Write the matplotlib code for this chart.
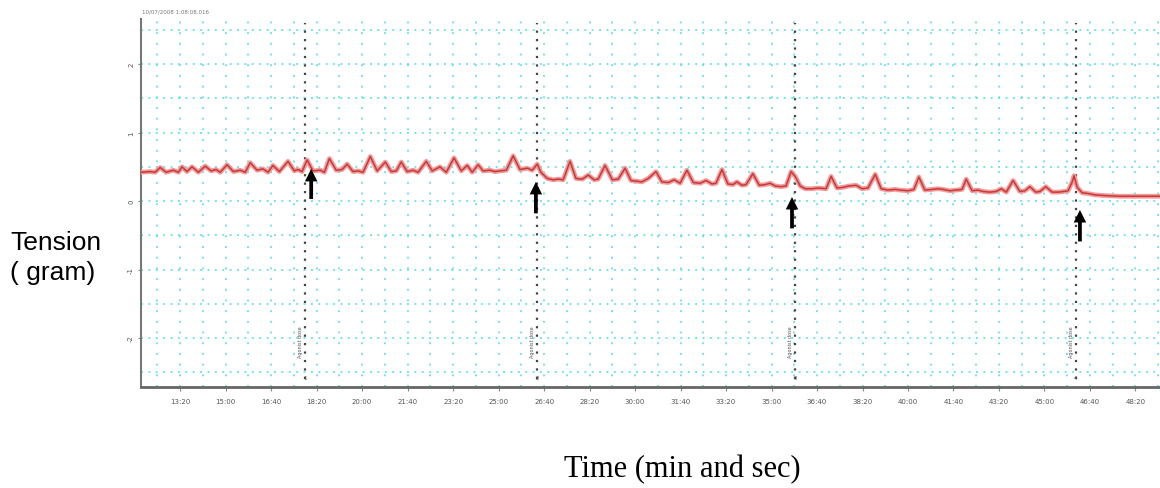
import matplotlib
matplotlib.use("Agg")
import matplotlib.pyplot as plt

# tension trace (time in s, tension in g)
time_s = [714, 734, 745, 756, 769, 785, 796, 804, 815, 826, 840, 855, 868, 879, 888,
          903, 917, 932, 943, 954, 969, 982, 993, 1004, 1018, 1037, 1051, 1059, 1068,
          1079, 1092, 1108, 1117, 1128, 1143, 1156, 1167, 1180, 1191, 1202, 1218, 1233,
          1251, 1264, 1275, 1286, 1299, 1312, 1323, 1341, 1354, 1371, 1385, 1402, 1418,
          1431, 1442, 1455, 1466, 1481, 1492, 1503, 1517, 1532, 1547, 1563, 1574, 1585,
          1593, 1607, 1620, 1631, 1642, 1657, 1670, 1684, 1697, 1710, 1719, 1734, 1750,
          1763, 1778, 1791, 1804, 1815, 1829, 1846, 1859, 1873, 1886, 1899, 1914, 1928,
          1943, 1956, 1969, 1978, 1991, 2004, 2015, 2024, 2035, 2044, 2059, 2073, 2086,
          2097, 2108, 2121, 2132, 2143, 2152, 2163, 2174, 2189, 2202, 2220, 2231, 2244,
          2257, 2270, 2286, 2299, 2312, 2328, 2341, 2356, 2372, 2383, 2400, 2413, 2424,
          2437, 2453, 2466, 2477, 2492, 2506, 2519, 2528, 2541, 2554, 2565, 2580, 2594,
          2605, 2616, 2631, 2646, 2657, 2668, 2681, 2690, 2703, 2717, 2730, 2743, 2752,
          2761, 2765, 2772, 2783, 2796, 2811, 2833, 2866, 2910, 2954]
tension_g = [0.42, 0.43, 0.42, 0.49, 0.42, 0.45, 0.42, 0.50, 0.43, 0.50, 0.42, 0.51, 0.44,
             0.46, 0.42, 0.53, 0.43, 0.45, 0.42, 0.56, 0.45, 0.47, 0.42, 0.52, 0.43, 0.58,
             0.44, 0.46, 0.43, 0.60, 0.44, 0.45, 0.42, 0.62, 0.45, 0.46, 0.54, 0.43, 0.44,
             0.42, 0.65, 0.44, 0.57, 0.43, 0.44, 0.57, 0.43, 0.45, 0.42, 0.58, 0.44, 0.50,
             0.42, 0.63, 0.44, 0.52, 0.42, 0.53, 0.44, 0.45, 0.43, 0.44, 0.45, 0.66, 0.46,
             0.48, 0.45, 0.54, 0.42, 0.33, 0.31, 0.32, 0.31, 0.58, 0.33, 0.32, 0.38, 0.31,
             0.32, 0.52, 0.31, 0.32, 0.48, 0.30, 0.29, 0.28, 0.33, 0.43, 0.28, 0.27, 0.31,
             0.26, 0.45, 0.27, 0.26, 0.30, 0.25, 0.26, 0.46, 0.25, 0.24, 0.28, 0.23, 0.24,
             0.40, 0.23, 0.24, 0.26, 0.22, 0.21, 0.22, 0.43, 0.36, 0.22, 0.18, 0.18, 0.19,
             0.18, 0.36, 0.19, 0.20, 0.22, 0.23, 0.18, 0.19, 0.39, 0.18, 0.16, 0.17, 0.16,
             0.15, 0.17, 0.35, 0.16, 0.17, 0.18, 0.17, 0.15, 0.16, 0.17, 0.32, 0.15, 0.16,
             0.14, 0.13, 0.14, 0.18, 0.13, 0.30, 0.14, 0.15, 0.21, 0.13, 0.14, 0.21, 0.13,
             0.13, 0.14, 0.15, 0.28, 0.37, 0.20, 0.12, 0.11, 0.09, 0.08, 0.07, 0.07, 0.07]

# event markers (dose additions)
marker_times = [1075, 1585, 2152, 2769]
marker_nums = ["1", "2", "3", "4"]
marker_text = ["Agonist dose", "Agonist dose", "Agonist dose", "Agonist dose"]

# arrows drawn under each response: x, tip, tail
arrow_times = [1088, 1582, 2145, 2778]
arrow_tips = [0.51, 0.32, 0.10, -0.09]
arrow_tails = [-0.01, -0.22, -0.44, -0.63]

tick_times = [800, 900, 1000, 1100, 1200, 1300, 1400, 1500, 1600, 1700, 1800,
              1900, 2000, 2100, 2200, 2300, 2400, 2500, 2600, 2700, 2800, 2900]
tick_labels = ["13:20", "15:00", "16:40", "18:20", "20:00", "21:40", "23:20", "25:00",
               "26:40", "28:20", "30:00", "31:40", "33:20", "35:00", "36:40", "38:20",
               "40:00", "41:40", "43:20", "45:00", "46:40", "48:20"]
ytick_vals = [2, 1, 0, -1, -2]

fig = plt.figure(figsize=(11.6, 4.89), dpi=100)
ax = fig.add_axes([0.1216, 0.2065, 0.8784, 0.7525])
ax.set_xlim(714, 2954)
ax.set_ylim(-2.715, 2.657)

grid_c = "#5fdde6"
t = 750
while t < 2954:
    ax.axvline(t, color=grid_c, lw=1.4, ls=(0, (1.0, 4.5)), alpha=0.85, zorder=0)
    t += 50
g = -2.5
while g <= 2.5:
    ax.axhline(g, color=grid_c, lw=1.4, ls=(0, (1.0, 2.8)), alpha=0.85, zorder=0)
    g += 0.5

for mt, num, txt in zip(marker_times, marker_nums, marker_text):
    ax.plot([mt, mt], [-2.6, 2.6], color="#444444", lw=1.6, ls=(0, (1, 2.8)), zorder=1)
    ax.text(mt - 10, -2.05, txt, rotation=90, fontsize=3.5, color="#555555",
            ha="center", va="center")
    ax.text(mt, -2.58, num, fontsize=4, color="#555555", ha="center", va="center")

ax.plot(time_s, tension_g, color="#f29a9a", lw=3.4, zorder=3, solid_joinstyle="round")
ax.plot(time_s, tension_g, color="#c63a3a", lw=1.1, zorder=4, solid_joinstyle="round")

for at, tip, tail in zip(arrow_times, arrow_tips, arrow_tails):
    ax.annotate("", xy=(at, tip), xytext=(at, tail), zorder=6,
                arrowprops=dict(arrowstyle="simple,head_length=1,head_width=1,tail_width=0.3",
                                mutation_scale=9, color="black", lw=0))

ax.set_xticks(tick_times)
ax.set_xticklabels(tick_labels, fontsize=5, color="#555555")
ax.set_yticks(ytick_vals)
ax.set_yticklabels([str(v) for v in ytick_vals], fontsize=5, color="#555555", rotation=90,
                   va="center")
ax.tick_params(axis="x", length=3, width=0.8, color="#888888", pad=5)
ax.tick_params(axis="y", length=2, width=0.8, color="#888888", pad=3)
for s in ["top", "right"]:
    ax.spines[s].set_visible(False)
ax.spines["left"].set_color("#777777")
ax.spines["left"].set_linewidth(1.5)
ax.spines["bottom"].set_color("#666666")
ax.spines["bottom"].set_linewidth(2)

fig.text(0.122, 0.975, "10/07/2008 1:08:08.016", fontsize=4, color="#777777",
         ha="left", va="center")
fig.text(0.0086, 0.472, "Tension\n( gram)", fontsize=19, ha="left", va="center",
         family="Liberation Sans", linespacing=1.3)
fig.text(0.588, 0.039, "Time (min and sec)", fontsize=22, ha="center", va="center",
         family="Liberation Serif")

fig.savefig("out.png", dpi=100)
